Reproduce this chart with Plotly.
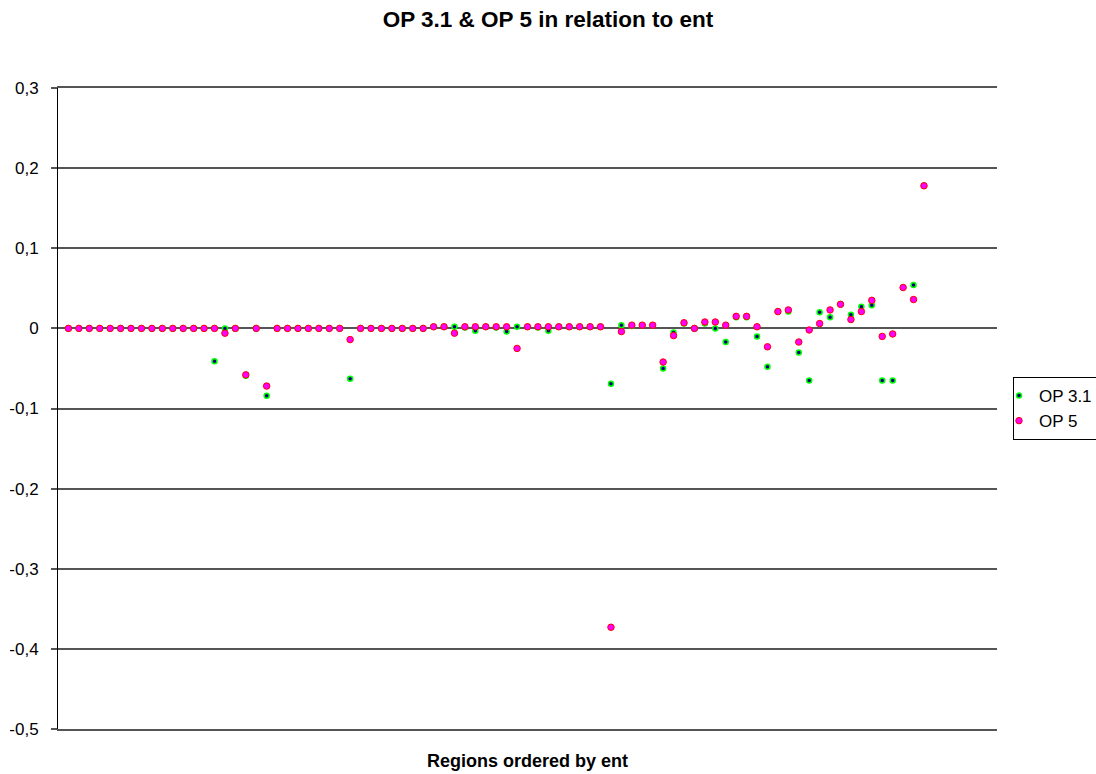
import plotly.graph_objects as go

# Regions ordered by ent (rank 1..83)
regions = list(range(1, 84))

op31 = [0, 0, 0, 0, 0, 0, 0, 0, 0, 0, 0, 0, 0, 0,
        -0.041, 0, 0, -0.059, 0, -0.084,
        0, 0, 0, 0, 0, 0, 0,
        -0.063,
        0, 0, 0, 0, 0, 0, 0,
        0.002, 0.002, 0.002, 0.001, -0.003, 0.002, 0.001, -0.004, 0.002, 0.002, 0.001, -0.003,
        0.002, 0.002, 0.002, 0.002, 0.002,
        -0.069, 0.004, 0.003, 0.004, 0.004, -0.050, -0.005, 0.006, 0.000,
        0.006, 0.000, -0.017, 0.014, 0.014, -0.010, -0.048, 0.021, 0.021, -0.030,
        -0.065, 0.020, 0.014, 0.030, 0.017, 0.027, 0.029, -0.065, -0.065, 0.051, 0.054, 0.178]

op5 = [0, 0, 0, 0, 0, 0, 0, 0, 0, 0, 0, 0, 0, 0,
       0, -0.006, 0, -0.058, 0, -0.072,
       0, 0, 0, 0, 0, 0, 0,
       -0.014,
       0, 0, 0, 0, 0, 0, 0,
       0.002, 0.002, -0.006, 0.002, 0.002, 0.002, 0.002, 0.002, -0.025, 0.002, 0.002, 0.002,
       0.002, 0.002, 0.002, 0.002, 0.002,
       -0.373, -0.004, 0.004, 0.004, 0.004, -0.042, -0.009, 0.007, 0.000,
       0.008, 0.008, 0.004, 0.015, 0.015, 0.002, -0.023, 0.021, 0.023, -0.017,
       -0.002, 0.006, 0.023, 0.030, 0.011, 0.021, 0.035, -0.010, -0.007, 0.051, 0.036, 0.178]

y_tickvals = [0.3, 0.2, 0.1, 0, -0.1, -0.2, -0.3, -0.4, -0.5]
y_ticktext = ["0,3", "0,2", "0,1", "0", "-0,1", "-0,2", "-0,3", "-0,4", "-0,5"]

FONT = "Liberation Sans, Arial, sans-serif"

fig = go.Figure()
fig.add_trace(go.Scatter(
    x=regions, y=op31, mode="markers", name="OP 3.1",
    marker=dict(size=5, color="#000080", line=dict(color="#00FF00", width=1.5)),
))
fig.add_trace(go.Scatter(
    x=regions, y=op5, mode="markers", name="OP 5",
    marker=dict(size=6.5, color="#FF00FF", line=dict(color="#FF0000", width=1)),
))

fig.update_layout(
    width=1096, height=774,
    paper_bgcolor="white", plot_bgcolor="white",
    margin=dict(l=58, r=99, t=88, b=45, autoexpand=False),
    font=dict(family=FONT, color="black"),
    title=dict(text="<b>OP 3.1 &amp; OP 5 in relation to ent</b>",
               x=0.5, xanchor="center", y=1 - 19 / 774, yanchor="middle",
               font=dict(size=22.5, family=FONT, color="black")),
    showlegend=True,
    legend=dict(x=1.017, xanchor="left", y=0.5, yanchor="middle",
                bordercolor="black", borderwidth=1, bgcolor="white",
                font=dict(size=17, family=FONT, color="black"),
                tracegroupgap=0, itemsizing="trace", indentation=-15),
    annotations=[dict(text="<b>Regions ordered by ent</b>", xref="paper", yref="paper",
                      x=0.5, y=-32 / 640.7, xanchor="center", yanchor="middle",
                      showarrow=False, font=dict(size=18, family=FONT, color="black"))],
)

fig.update_xaxes(range=[0, 90], showgrid=False, zeroline=False, showticklabels=False,
                 ticks="", showline=True, mirror=True, linecolor="#555555", linewidth=1.5)
fig.update_yaxes(range=[-0.5, 0.3], tickvals=y_tickvals, ticktext=y_ticktext,
                 showgrid=True, gridcolor="#555555", gridwidth=1.5,
                 zeroline=False, showline=True, linecolor="black", linewidth=1,
                 ticks="outside", ticklen=6, tickcolor="#555555", tickwidth=1.5,
                 ticklabelstandoff=9,
                 tickfont=dict(size=17, family=FONT, color="black"))

fig.write_html("out.html", config={"displayModeBar": False},
               post_script="document.body.style.margin='0';document.body.style.padding='0';")
